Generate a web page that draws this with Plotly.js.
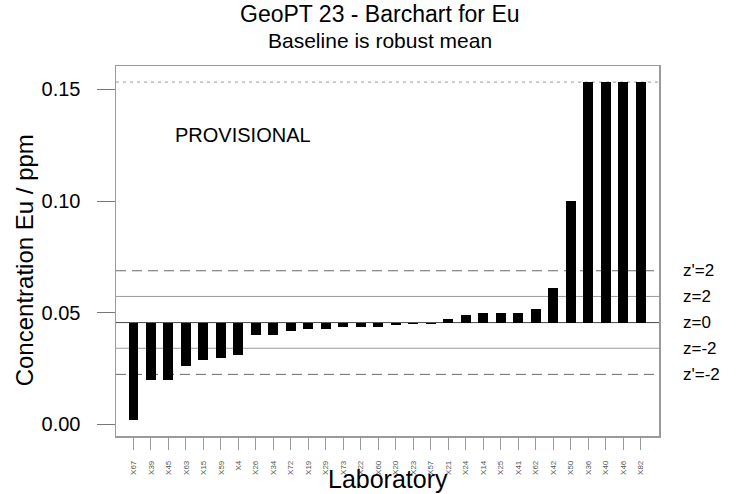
<!DOCTYPE html>
<html>
<head>
<meta charset="utf-8">
<script src="https://cdn.plot.ly/plotly-3.0.1.min.js"></script>
<style>html,body{margin:0;padding:0;background:#fff;}#chart{width:738px;height:494px;}</style>
</head>
<body>
<div id="chart"></div>
<script>
// ---- data ----
const labs = ["X67","X39","X45","X63","X15","X59","X4","X26","X34","X72","X19","X29","X73","X22","X60","X20","X23","X57","X21","X24","X14","X25","X41","X62","X42","X50","X36","X40","X46","X82"];
const values = [0.0021,0.0200,0.0200,0.0260,0.0288,0.0299,0.0309,0.0399,0.0399,0.0418,0.0429,0.0429,0.0438,0.0438,0.0438,0.0445,0.0449,0.0450,0.0470,0.0491,0.0500,0.0500,0.0500,0.0519,0.0612,0.1002,0.1533,0.1533,0.1533,0.1533];
const robustMean = 0.0456;
const zLines = [0.0573, 0.0341];          // z=2, z=-2
const zPrimeLines = [0.0688, 0.0224];     // z'=2, z'=-2
const clipLine = 0.1533;                  // upper display limit
const lineLabels = ["z'=2","z=2","z=0","z=-2","z'=-2"];
const lineLabelValues = [zPrimeLines[0], zLines[0], robustMean, zLines[1], zPrimeLines[1]];
const yTicks = [0, 0.05, 0.10, 0.15];
const yTickText = ["0.00","0.05","0.10","0.15"];

const FONT = "Liberation Sans, Arial, sans-serif";

const trace = {
  type: "bar",
  x: labs,
  y: values.map(v => v - robustMean),
  base: labs.map(() => robustMean),
  width: 0.57,
  marker: {color: "#000000", line: {width: 0}},
  hoverinfo: "skip"
};

function hline(y, color, dash, width) {
  return {type: "line", xref: "paper", x0: 0, x1: 1, yref: "y", y0: y, y1: y,
          layer: "below", line: {color: color, width: width || 1, dash: dash || "solid"}};
}

const shapes = [
  hline(clipLine, "#9a9a9a", "3px,4px"),
  hline(zPrimeLines[0], "#6a6a6a", "10px,6px"),
  hline(zPrimeLines[1], "#6a6a6a", "10px,6px"),
  hline(zLines[0], "#9a9a9a", "solid"),
  hline(zLines[1], "#9a9a9a", "solid"),
  hline(robustMean, "#4a4a4a", "solid")
];

const annotations = [
  {text: "GeoPT 23 - Barchart for Eu", xref: "paper", yref: "paper", x: 0.4865, y: 1.1405,
   xanchor: "center", yanchor: "middle", showarrow: false, font: {family: FONT, size: 23, color: "#000"}},
  {text: "Baseline is robust mean", xref: "paper", yref: "paper", x: 0.4865, y: 1.0676,
   xanchor: "center", yanchor: "middle", showarrow: false, font: {family: FONT, size: 21, color: "#000"}},
  {text: "PROVISIONAL", xref: "paper", yref: "paper", x: 0.1055, y: 0.8135,
   xanchor: "left", yanchor: "middle", showarrow: false, font: {family: FONT, size: 20, color: "#000"}},
  {text: "Concentration Eu / ppm", xref: "paper", yref: "paper", x: -0.167, y: 0.4757, textangle: -90,
   xanchor: "center", yanchor: "middle", showarrow: false, font: {family: FONT, size: 24, color: "#000"}},
  {text: "Laboratory", xref: "paper", yref: "paper", x: 0.5, y: -0.116,
   xanchor: "center", yanchor: "middle", showarrow: false, font: {family: FONT, size: 25, color: "#000"}}
];
lineLabels.forEach((t, i) => {
  annotations.push({text: t, xref: "paper", yref: "y", x: 1.04, y: lineLabelValues[i],
    xanchor: "left", yanchor: "middle", showarrow: false, font: {family: FONT, size: 17, color: "#000"}});
});

const layout = {
  width: 738, height: 494,
  margin: {l: 116, r: 79, t: 66, b: 58, pad: 0},
  paper_bgcolor: "#ffffff", plot_bgcolor: "#ffffff",
  showlegend: false,
  font: {family: FONT},
  xaxis: {
    type: "category", range: [-1.0, 30.05],
    showgrid: false, zeroline: false,
    showline: true, mirror: true, linecolor: "#9a9a9a", linewidth: 1.5,
    ticks: "outside", ticklen: 12, tickcolor: "#9a9a9a", tickwidth: 1,
    tickangle: -90, tickfont: {family: FONT, size: 8, color: "#555"},
    ticklabelstandoff: 8
  },
  yaxis: {
    range: [-0.0052, 0.1605],
    showgrid: false, zeroline: false,
    showline: true, mirror: true, linecolor: "#9a9a9a", linewidth: 1.5,
    ticks: "outside", ticklen: 18, tickcolor: "#777", tickwidth: 1,
    tickvals: yTicks, ticktext: yTickText,
    tickfont: {family: FONT, size: 20, color: "#000"},
    ticklabelstandoff: 12
  },
  shapes: shapes,
  annotations: annotations,
  bargap: 0
};

Plotly.newPlot("chart", [trace], layout, {displayModeBar: false, staticPlot: true});
</script>
</body>
</html>
